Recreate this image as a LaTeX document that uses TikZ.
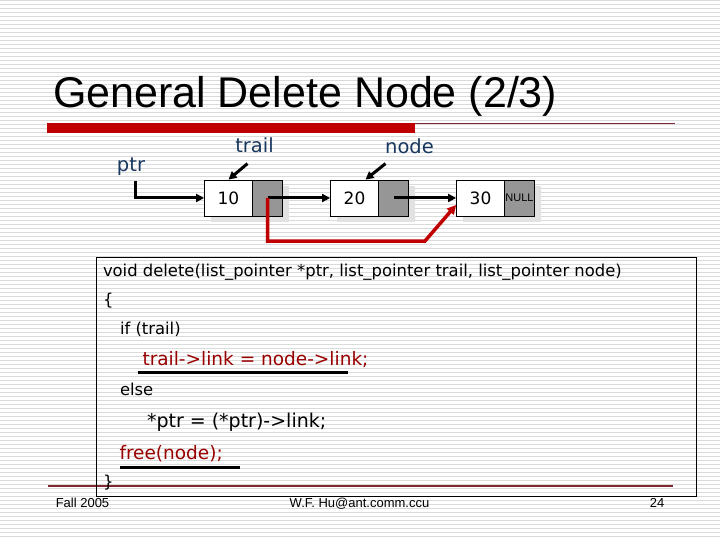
\documentclass[tikz,border=0pt]{standalone}
\usepackage{fontspec}
\setmainfont{Liberation Sans}
\newfontfamily\verd{DejaVu Sans}
\usetikzlibrary{arrows.meta,calc}
\definecolor{stripegray}{RGB}{218,218,218}
\definecolor{slidered}{RGB}{192,0,0}
\definecolor{rulered}{RGB}{128,40,50}
\definecolor{labelblue}{RGB}{23,55,94}
\definecolor{codered}{RGB}{153,0,0}
\definecolor{cellgray}{RGB}{150,150,150}
\definecolor{shadowgray}{RGB}{226,226,226}
\tikzset{
  txt/.style={inner sep=0pt, outer sep=0pt, anchor=base west},
  code/.style={txt, font=\verd\fontsize{16.4}{19}\selectfont},
  vcode/.style={txt, font=\verd\fontsize{18.5}{21}\selectfont},
  lbl/.style={inner sep=0pt, anchor=base, text=labelblue, font=\verd\fontsize{19.5}{22}\selectfont},
  valcell/.style={draw=black, line width=0.8pt, fill=white, minimum width=48pt, minimum height=36pt, inner sep=0pt, font=\verd\fontsize{17}{20}\selectfont},
  ptrcell/.style={draw=black, line width=0.8pt, fill=cellgray, minimum width=30pt, minimum height=36pt, inner sep=0pt},
  link/.style={line width=3pt, -{Triangle[length=8pt,width=8pt]}},
  redlink/.style={line width=3.5pt, draw=slidered, -{Triangle[length=9pt,width=9pt]}, color=slidered},
  uline/.style={line width=3pt, draw=black},
  footer/.style={inner sep=0pt, anchor=base, font=\fontsize{13}{15}\selectfont}
}
\begin{document}
\begin{tikzpicture}[x=1pt,y=-1pt]
\useasboundingbox (0,0) rectangle (720,540);
\fill[white] (0,0) rectangle (720,540);
\foreach \i in {0,...,134} {
  \draw[stripegray, line width=1.1pt] (0,\i*4+0.8) -- (720,\i*4+0.8);
}
% title
\node[txt, font=\fontsize{43}{48}\selectfont] (title) at (53,107.5) {General Delete Node (2/3)};
\fill[slidered] (47,123) rectangle (415,133);
\draw[rulered, line width=1pt] (415,123.5) -- (675,123.5);
\draw[rulered, line width=1.2pt] (48,486) -- (673,486);
% shadows
\fill[shadowgray] (210.5,186) rectangle (288.5,222);
\fill[shadowgray] (336.5,186) rectangle (414.5,222);
\fill[shadowgray] (462.5,186) rectangle (540.5,222);
% list nodes
\node[valcell] (n1v) at (228.5,198) {10};
\node[ptrcell] (n1p) at (267.5,198) {};
\node[valcell] (n2v) at (354.5,198) {20};
\node[ptrcell] (n2p) at (393.5,198) {};
\node[valcell] (n3v) at (480.5,198) {30};
\node[ptrcell, font=\fontsize{11}{12}\selectfont] (n3p) at (519.5,198) {NULL};
% labels
\node[lbl] (ptrlbl) at (131,172) {ptr};
\node[lbl] (traillbl) at (254.5,153) {trail};
\node[lbl] (nodelbl) at (409.5,154) {node};
\coordinate (pstart) at (135,181);
\draw[link] (pstart) |- (n1v.west);
\draw[link] ($(n1v.north)+(19,-16)$) -- (n1v.north);
\draw[link] ($(n2v.north)+(31,-16)$) -- ($(n2v.north)+(11,0)$);
\draw[link] (n1p.center) -- (n2v.west);
\draw[link] (n2p.center) -- (n3v.west);
\draw[redlink] (n1p.center) -- (n1p.center |- 0,241) -- (425,241) -- ($(n3v.west)+(0,7)$);
% code box
\draw[black, line width=1pt] (96.5,257.5) rectangle (696.5,496.5);
\node[code] (l1) at (103,276.3) {void delete(list\_pointer *ptr, list\_pointer trail, list\_pointer node)};
\node[code] (l2) at (103,305) {\{};
\node[code] (l3) at (120,334) {if (trail)};
\node[vcode, text=codered] (l4) at (142.5,365) {trail->link = node->link;};
\draw[uline] (137.5,372.5) -- (348,372.5);
\node[code] (l5) at (120,395) {else};
\node[vcode, font=\verd\fontsize{19}{21}\selectfont] (l6) at (147,427) {*ptr = (*ptr)->link;};
\node[vcode, text=codered] (l7) at (119.5,459) {free(node);};
\draw[uline] (119.5,467) -- (240,467);
\node[code] (l8) at (103,487) {\}};
% footer
\node[footer] (f1) at (82.5,507) {Fall 2005};
\node[footer] (f2) at (359.5,507) {W.F. Hu@ant.comm.ccu};
\node[footer] (f3) at (657,507) {24};
\end{tikzpicture}
\end{document}
